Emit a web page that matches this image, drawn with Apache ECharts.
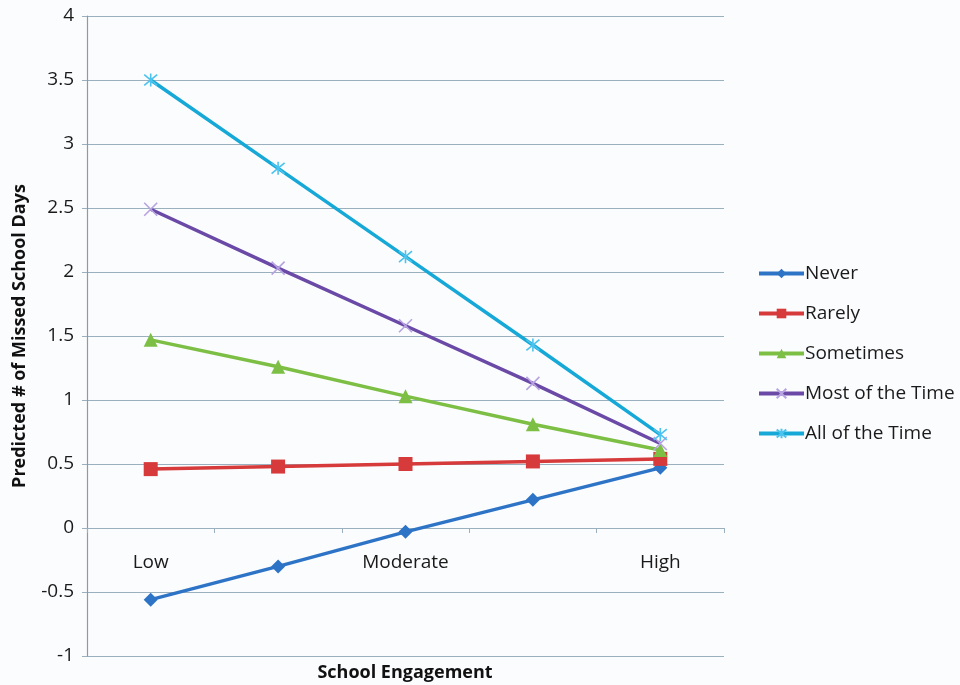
<!DOCTYPE html>
<html>
<head>
<meta charset="utf-8">
<script src="https://cdn.jsdelivr.net/npm/echarts@6/dist/echarts.min.js"></script>
<style>
  html, body { margin: 0; padding: 0; background: #fbfcfe; }
  #chart { width: 960px; height: 685px; }
</style>
</head>
<body>
<div id="chart"></div>
<script>
// Engagement levels along the x axis (unlabelled in-between steps kept blank)
const categories = ['Low', '', 'Moderate', '', 'High'];

// Predicted missed school days for each frequency group
const never      = [-0.56, -0.30, -0.03, 0.22, 0.47];
const rarely     = [0.46, 0.48, 0.50, 0.52, 0.54];
const sometimes  = [1.47, 1.26, 1.03, 0.81, 0.61];
const mostOfTime = [2.49, 2.03, 1.58, 1.13, 0.66];
const allOfTime  = [3.50, 2.81, 2.12, 1.43, 0.73];

const seriesNames = ['Never', 'Rarely', 'Sometimes', 'Most of the Time', 'All of the Time'];

const FONT = '"Open Sans", Lato, sans-serif';
const gridColor = '#9bb0be';

const crossPath = 'path://M0,0L10,10M10,0L0,10';
const starPath = 'path://M0,0L10,10M10,0L0,10M5,-1L5,11';

const PLOT_TOP = 16;
const PLOT_HEIGHT = 640;
const Y_MIN = -1;
const Y_MAX = 4;

function lineSeries(name, data, color, symbol, size, markerStyle) {
  return {
    name: name,
    type: 'line',
    data: data,
    symbol: symbol,
    symbolSize: size,
    lineStyle: { color: color, width: 3.5 },
    itemStyle: markerStyle || { color: color },
    emphasis: { disabled: true },
    animation: false
  };
}

const chart = echarts.init(document.getElementById('chart'), null, { renderer: 'canvas' });

chart.setOption({
  backgroundColor: '#fbfcfe',
  textStyle: { fontFamily: FONT },
  grid: {
    left: 87, right: 236, top: PLOT_TOP, height: PLOT_HEIGHT,
    containLabel: false, outerBoundsMode: 'none'
  },
  legend: {
    orient: 'vertical',
    left: 752,
    top: 259,
    itemWidth: 45,
    itemHeight: 12,
    itemGap: 21,
    data: seriesNames,
    lineStyle: { width: 4 },
    textStyle: { fontFamily: FONT, fontSize: 19, color: '#1a1a1a', padding: [0, 0, 0, -4] }
  },
  xAxis: {
    type: 'category',
    data: categories,
    boundaryGap: true,
    position: 'bottom',
    // the category line sits on the zero level of the value axis
    offset: -PLOT_HEIGHT * (0 - Y_MIN) / (Y_MAX - Y_MIN),
    axisLine: { onZero: false, lineStyle: { color: gridColor, width: 1.2 } },
    axisTick: { show: true, length: 5, alignWithLabel: false, lineStyle: { color: gridColor } },
    axisLabel: { margin: 25, fontSize: 19, color: '#1a1a1a', fontFamily: FONT, interval: 0 },
    splitLine: { show: false }
  },
  yAxis: {
    type: 'value',
    min: Y_MIN,
    max: Y_MAX,
    interval: 0.5,
    name: 'Predicted # of Missed School Days',
    nameLocation: 'middle',
    nameGap: 58,
    nameTextStyle: { fontFamily: FONT, fontSize: 18, fontWeight: 'bold', color: '#111' },
    axisLine: { show: true, lineStyle: { color: '#8a9aa6', width: 1.2 } },
    axisTick: { show: true, length: 5, lineStyle: { color: gridColor } },
    axisLabel: { margin: 13, fontSize: 19, color: '#1a1a1a', fontFamily: FONT },
    splitLine: { show: true, lineStyle: { color: gridColor, width: 1.2 } }
  },
  graphic: [{
    type: 'text',
    style: {
      x: 405,
      y: 673,
      text: 'School Engagement',
      fontFamily: FONT,
      fontSize: 18,
      fontWeight: 'bold',
      fill: '#111',
      align: 'center',
      verticalAlign: 'middle'
    }
  }],
  series: [
    lineSeries('Never', never, '#2e74c6', 'diamond', 14),
    lineSeries('Rarely', rarely, '#d63a3a', 'rect', 14),
    lineSeries('Sometimes', sometimes, '#7cbf44', 'triangle', 14),
    lineSeries('Most of the Time', mostOfTime, '#6a4aa6', crossPath, 13,
      { color: 'rgba(0,0,0,0)', borderColor: '#b7a3e2', borderWidth: 1.6 }),
    lineSeries('All of the Time', allOfTime, '#16a8d6', starPath, 13,
      { color: 'rgba(0,0,0,0)', borderColor: '#4cc3ee', borderWidth: 1.6 })
  ]
});
</script>
</body>
</html>
